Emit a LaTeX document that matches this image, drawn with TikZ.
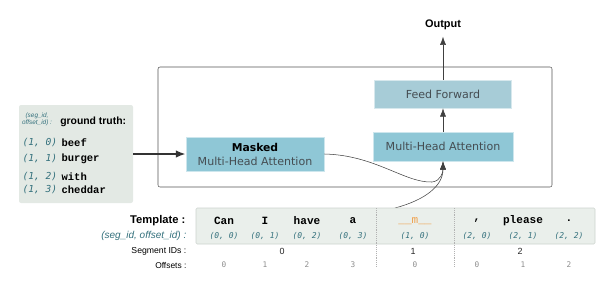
\documentclass[tikz,border=0pt]{standalone}
\usepackage{fontspec}
\setmainfont{Liberation Sans}
\setmonofont{Liberation Mono}
\newfontfamily\blockfont{DejaVu Sans}
\newfontfamily\pairfont{DejaVu Sans Mono}
\usetikzlibrary{
  arrows.meta
}

\definecolor{attnblue}{HTML}{8FC7D6}
\definecolor{ffblue}{HTML}{A7CCD7}
\definecolor{blocktext}{HTML}{454D52}
\definecolor{idteal}{HTML}{33707C}
\definecolor{panelfill}{HTML}{E3E9E4}
\definecolor{templfill}{HTML}{EAEFEB}
\definecolor{templedge}{HTML}{CDD3CE}
\definecolor{maskorange}{HTML}{F0A04A}
\definecolor{framegray}{HTML}{555555}

\begin{document}
\begin{tikzpicture}[
  x=0.75pt,
  y=-0.75pt,
  >=Latex,
  block/.style={draw=white!55!attnblue, fill=attnblue, inner sep=0pt,
                align=center, text=blocktext,
                font=\blockfont\fontsize{8.3}{10.5}\selectfont},
  flow/.style={thin, draw=black!75, -{Latex[length=2.2mm,width=1.6mm]}},
  feed/.style={line width=1.5pt, draw=black!80, -{Latex[length=2.6mm,width=2mm]}},
  pairtext/.style={font=\pairfont\itshape\fontsize{7.2}{8}\selectfont, text=idteal, inner sep=1pt},
  pairsmall/.style={font=\pairfont\itshape\fontsize{6}{7}\selectfont, text=idteal, inner sep=1pt},
  wordtext/.style={font=\ttfamily\bfseries\fontsize{7.9}{9}\selectfont, inner sep=1pt},
  tokentext/.style={font=\ttfamily\bfseries\fontsize{8.3}{9}\selectfont, inner sep=1pt},
  rowlabel/.style={anchor=east, inner sep=1pt},
  offtext/.style={font=\pairfont\fontsize{5.8}{7}\selectfont, text=black!45, inner sep=1pt},
  segtext/.style={font=\fontsize{6.7}{8}\selectfont, text=black!85, inner sep=1pt}
]

  \useasboundingbox (0,0) rectangle (606,287);

  % Ground truth panel on the left.
  \node[fill=panelfill, rounded corners=1.5pt, minimum width=85.5pt,
        minimum height=73.5pt, inner sep=0pt] (truth) at (76,154) {};
  \node[align=center, text=idteal, inner sep=0pt,
        font=\itshape\fontsize{4.8}{5.4}\selectfont] (truthkey) at (37,119.5)
    {(seg\_id,\\offset\_id) :};
  \node[anchor=west, inner sep=0pt, font=\bfseries\fontsize{7.8}{9}\selectfont]
    (truthhead) at (60,122) {ground truth:};
  \foreach \yy/\of/\w in {143/0/beef,159/1/burger,177/2/with,190/3/cheddar}
  {
    \node[pairtext, anchor=west] (gt-pair-\of) at (21,\yy) {(1, \of)};
    \node[wordtext, anchor=west] (gt-word-\of) at (60,\yy) {\w};
  }

  % Decoder layer frame.
  \draw[framegray, rounded corners=1.5pt] (158,67) rectangle (552,187);

  \node[block, minimum width=103.5pt, minimum height=25.5pt] (masked) at (255,154)
    {{\color{black}\fontsize{8.1}{10.5}\selectfont\bfseries Masked}\\Multi-Head Attention};
  \node[block, minimum width=105pt, minimum height=21.75pt] (mha) at (443,146.5)
    {Multi-Head Attention};
  \node[block, fill=ffblue, draw=white!55!ffblue, minimum width=102.75pt,
        minimum height=21pt] (ff) at (443,94) {Feed Forward};
  \node[font=\bfseries\fontsize{8.2}{9}\selectfont, inner sep=1pt,
        outer sep=4pt] (output) at (443,25) {Output};

  \draw[feed] (truth.east) -- (masked.west);
  \draw[flow] (mha.north) -- (ff.south);
  \draw[flow] (ff.north) -- (output.south);

  % Keys from the masked block and query from the template.
  \coordinate (query) at (395,208);
  \draw[flow] (masked.east) .. controls (375,155) and (405,183) .. (432,182)
    .. controls (441,181) and (443,172) .. (mha.south);
  \draw[flow] (query) .. controls (425,200) and (443,186) .. (mha.south);

  % Template row.
  \node[fill=templfill, draw=templedge, rounded corners=1pt, minimum width=299.25pt,
        minimum height=27pt, inner sep=0pt] (template) at (395.5,226) {};
  \draw[black!30, densely dotted] (376,208) -- (376,266);
  \draw[black!30, densely dotted] (454,208) -- (454,266);

  \node[rowlabel, font=\bfseries\fontsize{8.4}{9}\selectfont] (templhead) at (187,221)
    {Template :};
  \node[rowlabel, text=idteal, font=\itshape\fontsize{7.5}{9}\selectfont]
    (pairhead) at (188,236) {(seg\_id, offset\_id) :};
  \node[rowlabel, font=\fontsize{6.5}{8}\selectfont] (seghead) at (188,251)
    {Segment IDs :};
  \node[rowlabel, font=\fontsize{6.3}{8}\selectfont] (offhead) at (188,265)
    {Offsets :};

  \foreach \xx/\tok/\nm in {224/Can/can,265/I/i,307/have/have,353/a/a,
                            523/please/please,569/./stop}
    \node[tokentext] (tok-\nm) at (\xx,221) {\tok};
  \node[tokentext, text=maskorange, font=\ttfamily\fontsize{8.3}{9}\selectfont]
    (tok-mask) at (415,221) {\_\_m\_\_};
  \node[tokentext] (tok-comma) at (477,221) {,};

  \foreach \xx/\sg/\of in {224/0/0,265/0/1,307/0/2,353/0/3,
                           415/1/0,477/2/0,523/2/1,569/2/2}
  {
    \node[pairsmall] (pair-\sg-\of) at (\xx,236) {(\sg, \of)};
    \node[offtext] (off-\sg-\of) at (\xx,265) {\of};
  }

  \node[segtext] (seg0) at (282,251) {0};
  \node[segtext] (seg1) at (413,251) {1};
  \node[segtext] (seg2) at (520,251) {2};

\end{tikzpicture}
\end{document}
